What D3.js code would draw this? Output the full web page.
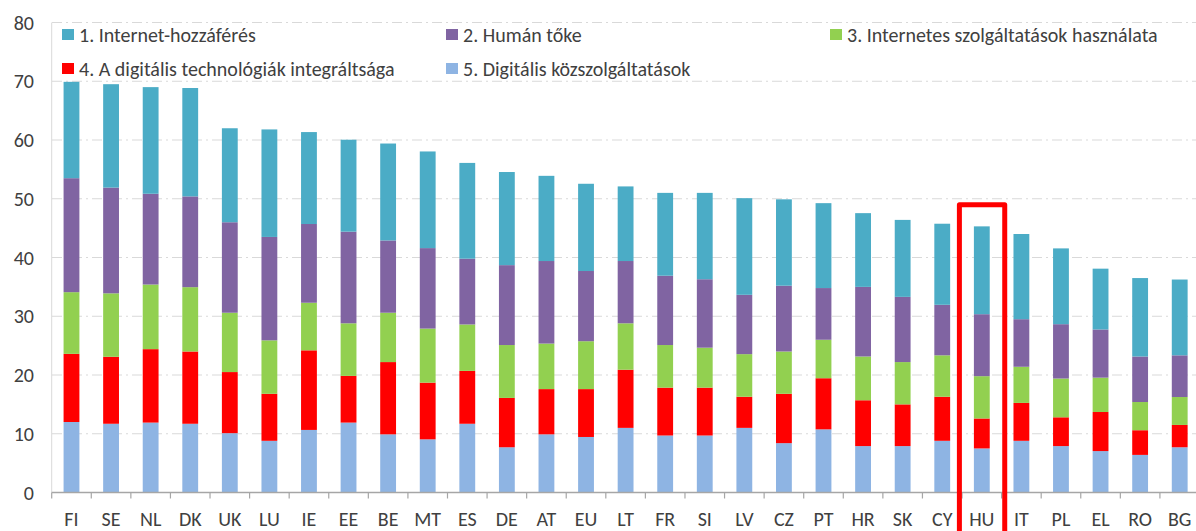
<!DOCTYPE html>
<html>
<head>
<meta charset="utf-8">
<script src="https://cdn.jsdelivr.net/npm/d3@7"></script>
<style>
  html, body { margin: 0; padding: 0; background: #fff; }
  svg { display: block; font-family: Calibri, Carlito, Lato, sans-serif; }
</style>
</head>
<body>
<div id="main"></div>
<script>
// countries, sorted by total DESI score
var countries = ['FI','SE','NL','DK','UK','LU','IE','EE','BE','MT','ES','DE','AT','EU','LT',
                 'FR','SI','LV','CZ','PT','HR','SK','CY','HU','IT','PL','EL','RO','BG'];

// the five dimensions
var internetAccess = [16.4,17.6,18.15,18.45,16.0,18.3,15.65,15.65,16.5,16.45,16.3,15.85,14.5,14.85,12.7,
                      14.1,14.7,16.45,14.7,14.45,12.55,13.1,13.8,14.95,14.5,12.9,10.35,13.35,12.9];
var humanCapital   = [19.4,18.0,15.45,15.45,15.4,17.6,13.4,15.6,12.3,13.7,11.2,13.6,14.05,11.95,10.6,
                      11.8,11.65,10.1,11.2,8.8,11.85,11.1,8.6,10.55,8.1,9.25,8.2,7.75,7.1];
var internetUse    = [10.5,10.8,11.0,10.95,10.1,9.1,8.1,8.95,8.4,9.2,7.9,9.0,7.75,8.15,7.9,
                      7.25,6.8,7.25,7.2,6.55,7.45,7.2,7.05,7.2,6.15,6.6,5.85,4.8,4.75];
var integration    = [11.6,11.4,12.5,12.3,10.4,8.0,13.55,7.95,12.3,9.65,9.0,8.4,7.7,8.15,9.9,
                      8.15,8.15,5.3,8.4,8.7,7.8,7.1,7.5,5.1,6.45,4.9,6.65,4.2,3.8];
var publicServices = [12.0,11.7,11.9,11.7,10.1,8.8,10.65,11.9,9.9,9.05,11.7,7.7,9.9,9.45,11.0,
                      9.7,9.7,11.0,8.4,10.75,7.9,7.9,8.8,7.5,8.8,7.9,7.05,6.4,7.7];

var seriesNames = ['1. Internet-hozzáférés', '2. Humán tőke', '3. Internetes szolgáltatások használata',
                   '4. A digitális technológiák integráltsága', '5. Digitális közszolgáltatások'];
var seriesColors = ['#4BACC6', '#8064A2', '#92D050', '#FF0000', '#8EB4E3'];
var yTicks = [0, 10, 20, 30, 40, 50, 60, 70, 80];
var highlight = 'HU';

var width = 1196, height = 531;

var svg = d3.select('#main')
    .append('svg')
    .attr('width', width)
    .attr('height', height);

var x = d3.scaleBand()
    .domain(countries)
    .range([51.7, 1199.5])
    .paddingInner(0.6)
    .paddingOuter(0.3);

var y = d3.scaleLinear()
    .domain([0, 80])
    .range([492.5, 22.5]);

// gridlines
svg.append('g')
    .selectAll('line')
    .data(yTicks.slice(1))
    .join('line')
    .attr('x1', 52)
    .attr('x2', width)
    .attr('y1', d => y(d))
    .attr('y2', d => y(d))
    .attr('stroke', '#d9d9d9')
    .attr('stroke-width', 1)
    .attr('stroke-dasharray', '10,4,2,4');

// left axis line
svg.append('line')
    .attr('x1', 51.7).attr('x2', 51.7)
    .attr('y1', y(80)).attr('y2', y(0))
    .attr('stroke', '#d9d9d9');

// y tick labels
svg.append('g')
    .selectAll('text')
    .data(yTicks)
    .join('text')
    .attr('x', 34)
    .attr('y', d => y(d))
    .attr('dy', '0.35em')
    .attr('text-anchor', 'end')
    .attr('font-size', 20)
    .attr('fill', '#404040')
    .text(d => d);

// stacked data, bottom to top: 5, 4, 3, 2, 1
var rows = countries.map((c, i) => ({
    country: c,
    s5: publicServices[i],
    s4: integration[i],
    s3: internetUse[i],
    s2: humanCapital[i],
    s1: internetAccess[i]
}));
var keys = ['s5', 's4', 's3', 's2', 's1'];
var colorOf = { s1: seriesColors[0], s2: seriesColors[1], s3: seriesColors[2], s4: seriesColors[3], s5: seriesColors[4] };
var stacked = d3.stack().keys(keys)(rows);

svg.append('g')
    .selectAll('g')
    .data(stacked)
    .join('g')
    .attr('fill', d => colorOf[d.key])
    .selectAll('rect')
    .data(d => d)
    .join('rect')
    .attr('x', d => x(d.data.country))
    .attr('width', x.bandwidth())
    .attr('y', d => y(d[1]))
    .attr('height', d => y(d[0]) - y(d[1]));

// bottom axis
var xAxis = svg.append('g');
xAxis.append('line')
    .attr('x1', 51.7).attr('x2', width)
    .attr('y1', y(0)).attr('y2', y(0))
    .attr('stroke', '#a6a6a6')
    .attr('stroke-width', 1.5);
xAxis.selectAll('line.tick')
    .data(d3.range(countries.length + 1))
    .join('line')
    .attr('class', 'tick')
    .attr('x1', i => 51.7 + i * x.step())
    .attr('x2', i => 51.7 + i * x.step())
    .attr('y1', y(0))
    .attr('y2', y(0) + 6)
    .attr('stroke', '#a6a6a6')
    .attr('stroke-width', 1.2);
xAxis.selectAll('text')
    .data(countries)
    .join('text')
    .attr('x', d => x(d) + x.bandwidth() / 2)
    .attr('y', 526)
    .attr('text-anchor', 'middle')
    .attr('font-size', 20)
    .attr('fill', '#404040')
    .text(d => d);

// highlight box around HU
var hx0 = x(highlight) - 14.5;
var hx1 = x(highlight) + x.bandwidth() + 15;
var hTop = y(49.0);
svg.append('path')
    .attr('d', d3.line()([[hx0, height + 10], [hx0, hTop], [hx1, hTop], [hx1, height + 10]]))
    .attr('fill', 'none')
    .attr('stroke', '#FF0000')
    .attr('stroke-width', 5)
    .attr('stroke-linejoin', 'round');

// legend
var legendPos = [[62, 35], [446, 35], [830, 35], [62, 69], [446, 69]];
var legend = svg.append('g')
    .selectAll('g')
    .data(seriesNames)
    .join('g')
    .attr('transform', (d, i) => 'translate(' + legendPos[i][0] + ',' + legendPos[i][1] + ')');
legend.append('rect')
    .attr('x', 0)
    .attr('y', -6)
    .attr('width', 12)
    .attr('height', 11)
    .attr('fill', (d, i) => seriesColors[i]);
legend.append('text')
    .attr('x', 17)
    .attr('y', 0)
    .attr('dy', '0.35em')
    .attr('font-size', 20)
    .attr('fill', '#404040')
    .text(d => d);
</script>
</body>
</html>
